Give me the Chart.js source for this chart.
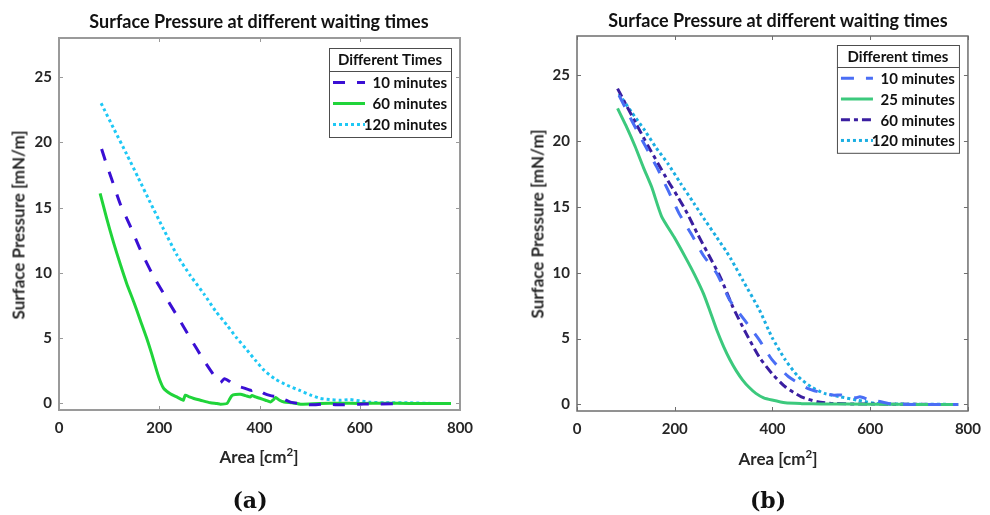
<!DOCTYPE html>
<html>
<head>
<meta charset="utf-8">
<script src="https://cdn.jsdelivr.net/npm/chart.js@4/dist/chart.umd.min.js"></script>
<style>
  html, body { margin:0; padding:0; background:#fff; }
  #wrap { position:relative; width:990px; height:515px; overflow:hidden; background:#fff; }
  canvas { position:absolute; top:0; }
  .lbl { position:absolute; transform:translate(-50%,-50%); white-space:nowrap; line-height:1;
         font-family:Lato, "Open Sans", sans-serif; font-weight:bold; color:#262626; }
  .ttl { font-size:18px; color:#111; }
  .axl { font-size:17px; }
  .yl  { transform:translate(-50%,-50%) rotate(-90deg); }
  .cap { font-family:"DejaVu Serif", "Liberation Serif", serif; font-size:22px; color:#111; }
  sup { font-size:0.68em; position:relative; top:-0.15em; vertical-align:top; }
</style>
</head>
<body>
<div id="wrap">
  <canvas id="ca" width="495" height="515" style="left:0"></canvas>
  <canvas id="cb" width="495" height="515" style="left:495px"></canvas>
  <div class="lbl ttl" style="left:259px; top:21px;">Surface Pressure at different waiting times</div>
  <div class="lbl ttl" style="left:778px; top:20px;">Surface Pressure at different waiting times</div>
  <div class="lbl axl yl" style="left:18px; top:225px;">Surface Pressure [mN/m]</div>
  <div class="lbl axl yl" style="left:537px; top:224px;">Surface Pressure [mN/m]</div>
  <div class="lbl axl" style="left:259px; top:456px;">Area [cm<sup>2</sup>]</div>
  <div class="lbl axl" style="left:778px; top:458px;">Area [cm<sup>2</sup>]</div>
  <div class="lbl cap" style="left:250px; top:500px;">(a)</div>
  <div class="lbl cap" style="left:768px; top:500px;">(b)</div>
</div>
<script>
// ---------- tick labels ----------
const xTickValues = [0, 200, 400, 600, 800];
const yTickValues = [0, 5, 10, 15, 20, 25];

// ---------- panel (a) ----------
const a10Area  = [85, 95, 105, 122, 142, 162, 185, 209, 235, 262, 289, 312, 322, 330, 340, 350, 368, 384, 392, 400, 410, 422, 436, 450, 462, 480, 502, 530, 560, 600, 640, 690];
const a10Press = [19.5, 18.3, 17.2, 15.3, 13.6, 11.8, 10.0, 8.4, 6.75, 5.0, 3.3, 2.0, 1.6, 1.9, 1.7, 1.4, 1.2, 1.0, 1.15, 1.0, 0.75, 0.6, 0.5, 0.3, 0.1, 0.0, -0.1, -0.05, -0.1, -0.05, -0.05, 0.0];

const a60Area  = [82, 95, 109, 122, 135, 149, 162, 175, 185, 195, 202, 209, 222, 235, 245, 248, 252, 260, 269, 282, 302, 315, 322, 335, 340, 345, 352, 362, 372, 382, 385, 392, 402, 412, 422, 428, 432, 440, 449, 465, 482, 520, 560, 600, 650, 700, 750, 782];
const a60Press = [16.1, 14.2, 12.3, 10.7, 9.2, 7.8, 6.4, 5.0, 3.8, 2.5, 1.7, 1.15, 0.75, 0.5, 0.3, 0.25, 0.64, 0.5, 0.38, 0.25, 0.05, 0.0, -0.05, 0.0, 0.3, 0.6, 0.68, 0.7, 0.6, 0.5, 0.62, 0.5, 0.38, 0.25, 0.12, 0.3, 0.46, 0.25, 0.12, 0.05, -0.05, 0.0, 0.02, 0.0, 0.02, 0.0, 0.0, 0.0];

const a120Area  = [84, 110, 135, 158, 182, 208, 235, 262, 289, 312, 335, 355, 375, 392, 409, 430, 455, 480, 502, 520, 540, 560, 580, 600, 620, 650, 700, 750, 782];
const a120Press = [23.0, 21.0, 19.1, 17.3, 15.4, 13.4, 11.4, 9.8, 8.4, 7.1, 6.0, 5.0, 4.1, 3.3, 2.55, 1.9, 1.4, 1.0, 0.64, 0.4, 0.3, 0.25, 0.3, 0.2, 0.1, 0.05, 0.05, 0.0, 0.0];

// ---------- panel (b) ----------
const b10Area  = [86, 113, 139, 163, 186, 209, 233, 259, 286, 313, 343, 373, 399, 433, 473, 500, 526, 540, 555, 570, 579, 599, 622, 642, 680, 720, 780];
const b10Press = [23.5, 21.5, 19.7, 18.05, 16.3, 14.5, 13.0, 11.3, 9.95, 7.9, 6.4, 4.9, 3.4, 2.1, 1.2, 0.9, 0.7, 0.72, 0.55, 0.5, 0.58, 0.35, 0.2, 0.05, 0.0, 0.0, 0.0];

const b25Area  = [83, 100, 119, 136, 153, 173, 199, 223, 240, 259, 273, 286, 300, 313, 326, 339, 352, 366, 382, 399, 426, 460, 500, 600, 700, 780];
const b25Press = [22.5, 21.2, 19.6, 18.0, 16.5, 14.3, 12.7, 11.1, 9.9, 8.4, 7.0, 5.65, 4.4, 3.4, 2.55, 1.85, 1.3, 0.84, 0.5, 0.33, 0.12, 0.06, 0.03, 0.02, 0.0, 0.0];

const b60Area  = [83, 100, 120, 146, 166, 186, 206, 226, 246, 266, 293, 319, 346, 373, 399, 426, 459, 492, 526, 580, 650, 720, 780];
const b60Press = [24.0, 22.8, 21.4, 19.6, 18.3, 17.0, 15.8, 14.5, 13.0, 11.6, 9.7, 7.4, 5.4, 3.6, 2.35, 1.34, 0.58, 0.2, 0.07, 0.03, 0.02, 0.0, 0.0];

const b120Area  = [86, 112, 139, 162, 186, 212, 239, 262, 286, 306, 316, 339, 373, 399, 426, 453, 479, 506, 539, 573, 613, 680, 780];
const b120Press = [23.6, 22.2, 20.8, 19.5, 18.3, 16.8, 15.3, 14.0, 12.7, 11.6, 11.0, 9.45, 7.2, 5.1, 3.4, 2.1, 1.34, 0.84, 0.58, 0.33, 0.07, 0.02, 0.0];

const toPts = (xs, ys) => xs.map((x, i) => ({ x: x, y: ys[i] }));

// ---------- plugins ----------
const framePlugin = {
  id: 'frame',
  afterDatasetsDraw(chart, args, opts) {
    const ctx = chart.ctx, a = chart.chartArea;
    const xs = chart.scales.x, ys = chart.scales.y;
    ctx.save();
    ctx.strokeStyle = opts.color; ctx.lineWidth = opts.width;
    ctx.strokeRect(a.left, a.top, a.right - a.left, a.bottom - a.top);
    ctx.lineWidth = 1;
    const L = 4;
    ctx.beginPath();
    xTickValues.forEach(v => {
      const p = Math.round(xs.getPixelForValue(v)) + 0.5;
      ctx.moveTo(p, a.bottom); ctx.lineTo(p, a.bottom - L);
      ctx.moveTo(p, a.top); ctx.lineTo(p, a.top + L);
    });
    yTickValues.forEach(v => {
      const p = Math.round(ys.getPixelForValue(v)) + 0.5;
      ctx.moveTo(a.left, p); ctx.lineTo(a.left + L, p);
      ctx.moveTo(a.right, p); ctx.lineTo(a.right - L, p);
    });
    ctx.stroke();
    ctx.restore();
  }
};

const boxLegendPlugin = {
  id: 'boxLegend',
  afterDraw(chart, args, opts) {
    const ctx = chart.ctx, a = chart.chartArea;
    const ds = chart.data.datasets;
    const right = a.right - opts.offRight, top = a.top + opts.offTop;
    const left = right - opts.w;
    const bottom = top + opts.head + opts.row * ds.length + 3;
    ctx.save();
    ctx.fillStyle = '#fff';
    ctx.fillRect(left, top, opts.w, bottom - top);
    ctx.strokeStyle = '#4d4d4d'; ctx.lineWidth = 1;
    ctx.strokeRect(left + 0.5, top + 0.5, opts.w, bottom - top);
    ctx.beginPath();
    ctx.moveTo(left, top + opts.head + 0.5); ctx.lineTo(right, top + opts.head + 0.5);
    ctx.stroke();
    ctx.fillStyle = '#111';
    ctx.font = 'bold 15px Lato, "Open Sans", sans-serif';
    ctx.textAlign = 'center'; ctx.textBaseline = 'middle';
    ctx.fillText(opts.title, (left + right) / 2, top + opts.head / 2 + 1);
    ds.forEach((d, i) => {
      const cy = top + opts.head + opts.row * (i + 0.5) + 1;
      ctx.beginPath();
      ctx.strokeStyle = d.borderColor; ctx.lineWidth = d.borderWidth;
      ctx.setLineDash(d.borderDash || []);
      ctx.moveTo(left + 4, cy); ctx.lineTo(left + 36, cy);
      ctx.stroke();
      ctx.setLineDash([]);
      ctx.fillStyle = '#111';
      ctx.textAlign = 'right';
      ctx.fillText(d.label, right - 4, cy + 1);
    });
    ctx.restore();
  }
};

function makeChart(id, datasets, geo, legendOpts, frameOpts) {
  return new Chart(document.getElementById(id), {
    type: 'line',
    data: { datasets: datasets },
    options: {
      responsive: false, animation: false, devicePixelRatio: 1,
      layout: { padding: { top: geo.top, right: geo.right, left: 0, bottom: 0 } },
      elements: { point: { radius: 0 }, line: { tension: 0.2, borderCapStyle: 'butt' } },
      plugins: { legend: { display: false }, tooltip: { enabled: false },
                 boxLegend: legendOpts, frame: frameOpts },
      scales: {
        x: {
          type: 'linear', min: 0, max: 800,
          afterFit: s => { s.height = geo.xH; },
          afterBuildTicks: s => { s.ticks = xTickValues.map(v => ({ value: v })); },
          grid: { display: false, drawTicks: false }, border: { display: false },
          ticks: { padding: 9, maxRotation: 0, autoSkip: false, color: '#262626',
                   font: { family: 'Lato', weight: 'bold', size: 15 } }
        },
        y: {
          type: 'linear', min: -0.5, max: 28,
          afterFit: s => { s.width = geo.yW; },
          afterBuildTicks: s => { s.ticks = yTickValues.map(v => ({ value: v })); },
          grid: { display: false, drawTicks: false }, border: { display: false },
          ticks: { padding: 7, autoSkip: false, color: '#262626',
                   font: { family: 'Lato', weight: 'bold', size: 15 } }
        }
      }
    },
    plugins: [framePlugin, boxLegendPlugin]
  });
}

makeChart('ca', [
  { label: '10 minutes', data: toPts(a10Area, a10Press), borderColor: '#3a0fd4', borderWidth: 3, borderDash: [12, 12] },
  { label: '60 minutes', data: toPts(a60Area, a60Press), borderColor: '#20d43a', borderWidth: 3 },
  { label: '120 minutes', data: toPts(a120Area, a120Press), borderColor: '#1ec8f5', borderWidth: 3, borderDash: [3, 3] }
], { top: 38, right: 35, yW: 59, xH: 105 },
   { title: 'Different Times', offRight: 9, offTop: 10, w: 122, head: 23, row: 21 },
   { color: '#9a9a9a', width: 2 });

makeChart('cb', [
  { label: '10 minutes', data: toPts(b10Area, b10Press), borderColor: '#4a6ef5', borderWidth: 3, borderDash: [13, 12] },
  { label: '25 minutes', data: toPts(b25Area, b25Press), borderColor: '#3cc97d', borderWidth: 3 },
  { label: '60 minutes', data: toPts(b60Area, b60Press), borderColor: '#3a1ea0', borderWidth: 3, borderDash: [9, 4, 4, 4] },
  { label: '120 minutes', data: toPts(b120Area, b120Press), borderColor: '#1aaee2', borderWidth: 3, borderDash: [3, 3] }
], { top: 36, right: 12, yW: 82, xH: 104 },
   { title: 'Different times', offRight: 9, offTop: 9, w: 122, head: 22, row: 20.7 },
   { color: '#6e6e6e', width: 1.5 });
</script>
</body>
</html>
